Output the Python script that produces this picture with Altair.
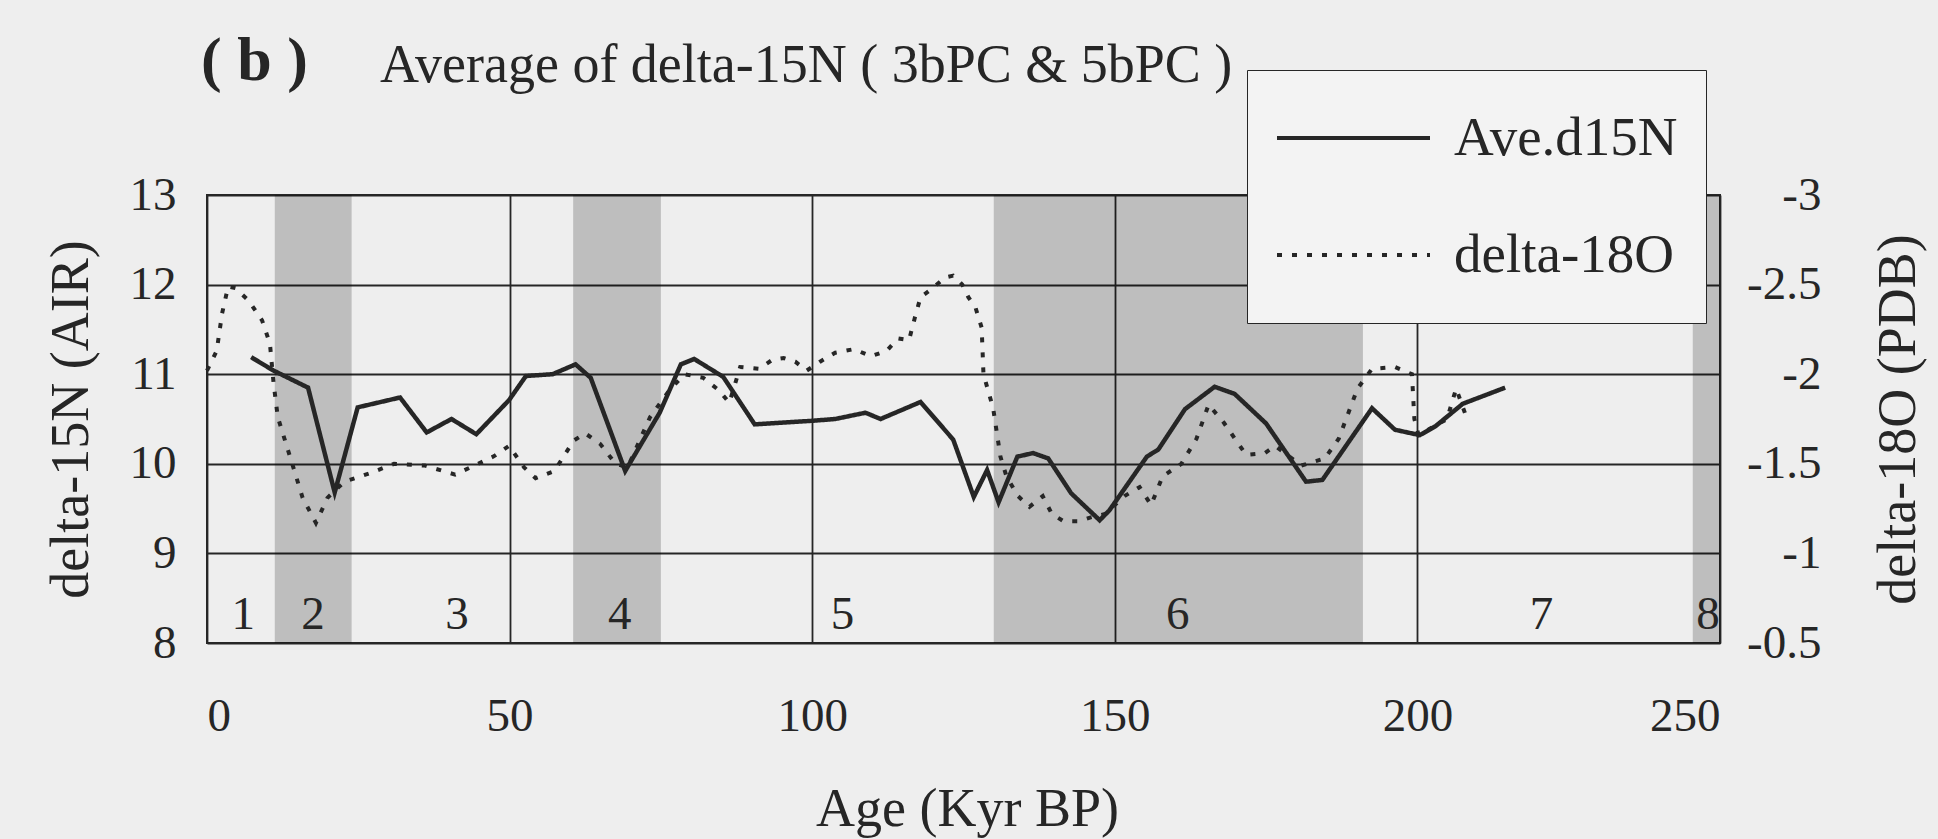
import altair as alt
import pandas as pd

# ---------------- data ----------------
# Average delta-15N (solid line), left axis
n15_age = [7.3, 11.0, 16.7, 21.1, 24.9, 31.9, 36.3, 40.4, 44.5, 49.9, 52.7, 57.1,
           60.9, 63.4, 69.1, 74.8, 78.3, 80.5, 85.3, 90.5, 100.0, 103.8, 108.8,
           111.3, 117.9, 123.3, 126.7, 128.9, 130.8, 133.9, 136.5, 139.0, 142.8,
           147.5, 149.1, 155.3, 157.2, 161.6, 166.5, 169.8, 175.0, 181.6, 184.3,
           192.5, 196.3, 200.4, 203.0, 207.5, 214.5]
n15_val = [11.19, 11.04, 10.85, 9.68, 10.63, 10.74, 10.35, 10.50, 10.33, 10.71,
           10.98, 11.00, 11.11, 10.96, 9.92, 10.57, 11.11, 11.17, 10.97, 10.44,
           10.48, 10.50, 10.57, 10.50, 10.69, 10.27, 9.63, 9.93, 9.57, 10.08,
           10.12, 10.06, 9.67, 9.37, 9.48, 10.08, 10.16, 10.61, 10.86, 10.78,
           10.45, 9.80, 9.82, 10.62, 10.38, 10.32, 10.42, 10.67, 10.85]

# delta-18O (dotted line), right axis
o18_age = [0.0, 1.6, 2.5, 3.5, 4.7, 6.9, 9.1, 10.4, 11.0, 11.7, 13.9, 15.8, 18.0,
           19.9, 22.7, 27.1, 30.9, 36.0, 41.0, 44.8, 47.3, 49.9, 52.4, 54.3, 57.4,
           60.6, 62.5, 65.0, 67.5, 69.5, 73.2, 76.4, 78.9, 82.0, 84.6, 86.3, 88.1,
           91.2, 93.4, 95.3, 97.2, 99.1, 101.3, 103.8, 106.9, 109.7, 112.3, 114.2,
           116.0, 117.0, 117.9, 119.5, 122.0, 123.3, 124.8, 125.8, 127.0, 128.0,
           128.3, 129.9, 131.1, 132.1, 134.0, 135.9, 138.1, 139.6, 141.5, 144.0,
           145.9, 148.4, 151.6, 154.1, 156.0, 157.9, 161.0, 163.5, 165.5, 168.0,
           171.7, 174.8, 176.5, 180.8, 184.7, 187.0, 190.1, 192.5, 196.3, 199.1,
           199.5, 200.2, 204.9, 206.4, 208.0]
o18_val = [-2.02, -2.13, -2.34, -2.49, -2.48, -2.41, -2.30, -2.17, -1.95, -1.76,
           -1.52, -1.31, -1.17, -1.31, -1.40, -1.45, -1.50, -1.49, -1.44, -1.50,
           -1.54, -1.60, -1.48, -1.42, -1.46, -1.63, -1.67, -1.61, -1.50, -1.48,
           -1.76, -1.91, -2.00, -1.98, -1.91, -1.84, -2.04, -2.03, -2.08, -2.09,
           -2.07, -2.02, -2.07, -2.12, -2.14, -2.10, -2.13, -2.20, -2.19, -2.32,
           -2.43, -2.47, -2.54, -2.55, -2.50, -2.43, -2.37, -2.26, -2.00, -1.81,
           -1.54, -1.43, -1.32, -1.26, -1.32, -1.22, -1.18, -1.18, -1.20, -1.22,
           -1.32, -1.37, -1.27, -1.43, -1.50, -1.64, -1.83, -1.73, -1.55, -1.56,
           -1.60, -1.49, -1.53, -1.64, -1.92, -2.03, -2.04, -2.00, -1.75, -1.66,
           -1.75, -1.92, -1.77]

# Marine isotope stages: shaded (even) stages and stage numbers
band_start = [11.2, 60.5, 130.0, 245.5]
band_end = [23.9, 75.0, 191.0, 250.0]
stage_num = ["1", "2", "3", "4", "5", "6", "7", "8"]
stage_age = [6.0, 17.5, 41.3, 68.2, 105.0, 160.4, 220.5, 248.0]

series_names = ["Ave.d15N", "delta-18O"]
panel_label = ["( b )"]
panel_title = ["Average of delta-15N ( 3bPC & 5bPC )"]

# ---------------- chart ----------------
FONT = "Liberation Serif"
INK = "#262626"

df_n = pd.DataFrame({"age": n15_age, "value": n15_val, "series": series_names[0]})
df_o = pd.DataFrame({"age": o18_age, "value": o18_val, "series": series_names[1]})
df_b = pd.DataFrame({"start": band_start, "end": band_end})
df_s = pd.DataFrame({"stage": stage_num, "age": stage_age})
df_tag = pd.DataFrame({"label": panel_label})
df_title = pd.DataFrame({"label": panel_title})

W, H = 1513, 448

x_scale = alt.Scale(domain=[0, 250], nice=False, zero=False)
x_axis = alt.Axis(values=[0, 50, 100, 150, 200, 250], grid=True, ticks=False,
                  tickSize=0, domain=False, labelPadding=87,
                  labelBaseline="alphabetic", title="Age (Kyr BP)",
                  titleX=760, titleY=182, titleBaseline="alphabetic",
                  titleAlign="center")

dash_scale = alt.Scale(domain=series_names, range=[[1, 0], [5, 10]])
legend = alt.Legend(title=None, orient="none", legendX=1040, legendY=-125,
                    padding=28, strokeColor=INK, fillColor="#f3f3f3",
                    symbolType="stroke", symbolSize=23409, symbolStrokeWidth=4,
                    symbolStrokeColor=INK, labelFont=FONT, labelFontSize=55,
                    labelColor=INK, labelOffset=22, clipHeight=80,
                    rowPadding=37, zindex=1, labelLimit=400)

left_scale = alt.Scale(domain=[8, 13], nice=False, zero=False)
left_axis = alt.Axis(orient="left", values=[8, 9, 10, 11, 12, 13], grid=True,
                     ticks=False, tickSize=0, domain=False, labelPadding=31,
                     labelExpr="toString(datum.value)",
                     title="delta-15N (AIR)", titleAngle=270, titleX=-136,
                     titleY=224, titleBaseline="middle", titleAlign="center")

right_scale = alt.Scale(domain=[-3, -0.5], reverse=True, nice=False, zero=False)
right_axis = alt.Axis(orient="right", values=[-3, -2.5, -2, -1.5, -1, -0.5],
                      grid=False, ticks=False, tickSize=0, domain=False,
                      labelAlign="right", labelPadding=101,
                      labelExpr="toString(datum.value)",
                      title="delta-18O (PDB)", titleAngle=270, titleX=178,
                      titleY=224, titleBaseline="middle", titleAlign="center")

bands = alt.Chart(df_b).mark_rect(color="#000000", opacity=0.2).encode(
    x=alt.X("start:Q", scale=x_scale, axis=x_axis),
    x2="end:Q",
)

solid = alt.Chart(df_n).mark_line(color=INK, strokeWidth=4.5).encode(
    x=alt.X("age:Q", scale=x_scale, axis=x_axis),
    y=alt.Y("value:Q", scale=left_scale, axis=left_axis),
    strokeDash=alt.StrokeDash("series:N", scale=dash_scale, legend=legend),
)

stages = alt.Chart(df_s).mark_text(font=FONT, fontSize=47, color=INK,
                                   align="center", baseline="middle").encode(
    x=alt.X("age:Q", scale=x_scale, axis=x_axis),
    y=alt.datum(8.31),
    text="stage:N",
)

left_layer = alt.layer(solid, stages)

dotted = alt.Chart(df_o).mark_line(color=INK, strokeWidth=4).encode(
    x=alt.X("age:Q", scale=x_scale, axis=x_axis),
    y=alt.Y("value:Q", scale=right_scale, axis=right_axis),
    strokeDash=alt.StrokeDash("series:N", scale=dash_scale, legend=legend),
)

panel_tag = alt.Chart(df_tag).mark_text(font=FONT, fontSize=62, fontWeight="bold",
                                        color=INK, align="left",
                                        baseline="alphabetic").encode(
    x=alt.value(-6), y=alt.value(-115), text="label:N")

panel_head = alt.Chart(df_title).mark_text(font=FONT, fontSize=54, color=INK,
                                           align="left",
                                           baseline="alphabetic").encode(
    x=alt.value(173), y=alt.value(-113), text="label:N")

chart = alt.layer(bands, left_layer, dotted, panel_tag, panel_head).resolve_scale(
    y="independent"
).properties(
    width=W, height=H,
    padding={"left": 207, "top": 195, "right": 218, "bottom": 196},
    autosize=alt.AutoSizeParams(type="none"),
    background="#eeeeee",
).configure_view(
    stroke=INK, strokeWidth=2
).configure_axis(
    gridColor=INK, gridWidth=1.8, gridOpacity=1,
    labelFont=FONT, titleFont=FONT, labelColor=INK, titleColor=INK,
    labelFontSize=47, titleFontSize=54, titleFontWeight="normal",
)

chart.save("out.html", embed_options={"renderer": "svg", "actions": False})
